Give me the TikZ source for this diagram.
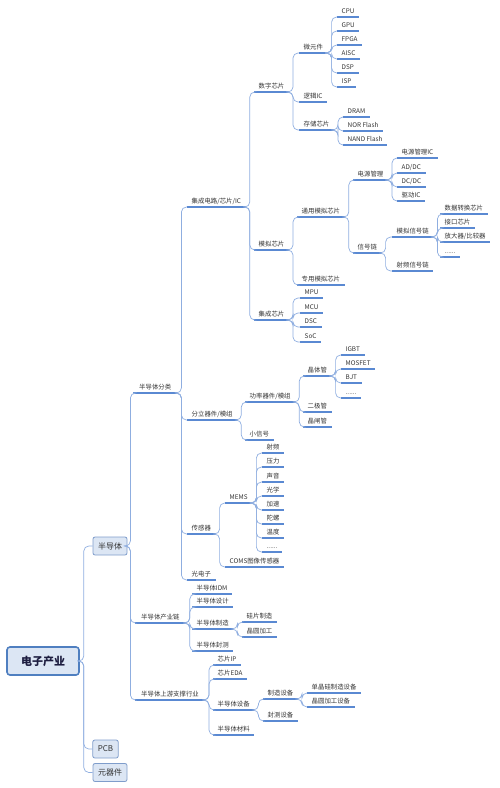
\documentclass[tikz,border=0pt]{standalone}
\usepackage{fontspec}
\setmainfont{Noto Sans CJK SC}
\definecolor{ulcol}{HTML}{5A89D2}
\definecolor{cncol}{HTML}{8FAEE0}
\definecolor{txtcol}{HTML}{333333}
\definecolor{boxfill}{HTML}{DCE6F4}
\definecolor{boxdraw}{HTML}{7F9DCB}
\definecolor{rootdraw}{HTML}{4F7FC0}
\tikzset{
  ulstyle/.style={draw=ulcol, line width=1.1pt},
  leaf/.style={anchor=south west, inner xsep=4.5pt, inner ysep=1.9pt,
    font=\fontsize{6.4}{7}\selectfont, text=txtcol, text height=5pt, text depth=1pt,
    append after command={(\tikzlastnode.south west) edge[ulstyle] (\tikzlastnode.south east)}},
  conn/.style={draw=cncol, line width=0.7pt, rounded corners=5pt},
  lonebox/.style={draw=boxdraw, fill=boxfill, line width=0.8pt, rounded corners=2pt,
    font=\fontsize{8}{9}\selectfont, text=txtcol, minimum height=18pt, inner xsep=5pt},
  rootbox/.style={draw=rootdraw, fill=boxfill, line width=1.6pt, rounded corners=3pt,
    font=\fontsize{11}{12}\selectfont\bfseries, text=txtcol!80!blue!70!black,
    minimum width=72pt, minimum height=28pt}
}
\begin{document}
\begin{tikzpicture}[x=1pt, y=-1pt]
\useasboundingbox (0,0) rectangle (500,788);
% root and level 1
\node[rootbox] (root) at (43,661) {电子产业};
\node[lonebox] (ban) at (110,546) {半导体};
\node[lonebox] (pcb) at (105.5,749) {PCB};
\node[lonebox] (yqj) at (110,772.5) {元器件};
\foreach \c in {ban,pcb,yqj}
  \draw[conn] (root.east) -- ++(4,0) |- (\c.west);
% level 2
\node[leaf, inner xsep=6pt] (fenlei) at (133,393) {半导体分类};
\node[leaf, inner xsep=6pt] (chanye) at (135,623) {半导体产业链};
\node[leaf, inner xsep=6pt] (shangyou) at (135,700) {半导体上游支撑行业};
\foreach \c in {fenlei,chanye,shangyou}
  \draw[conn] (ban.east) -- ++(3,0) |- (\c.south west);
% level 3 under fenlei
\node[leaf] (ic) at (187,207) {集成电路/芯片/IC};
\node[leaf] (fenli) at (187,420) {分立器件/模组};
\node[leaf] (cgq) at (187,534) {传感器};
\node[leaf] (gdz) at (187,580) {光电子};
\foreach \c in {ic,fenli,cgq,gdz}
  \draw[conn] (fenlei.south east) -- ++(4,0) |- (\c.south west);
% under ic
\node[leaf] (shuzi) at (254,92) {数字芯片};
\node[leaf] (moni) at (254,250) {模拟芯片};
\node[leaf] (jicheng) at (254,320) {集成芯片};
\foreach \c in {shuzi,moni,jicheng}
  \draw[conn] (ic.south east) -- ++(4,0) |- (\c.south west);
% under shuzi
\node[leaf] (wei) at (299,53) {微元件};
\node[leaf] (luoji) at (299,102) {逻辑IC};
\node[leaf] (cunchu) at (299,130) {存储芯片};
\foreach \c in {wei,luoji,cunchu}
  \draw[conn] (shuzi.south east) -- ++(4,0) |- (\c.south west);
% under wei
\node[leaf] (cpu) at (337,17) {CPU};
\node[leaf] (gpu) at (337,31) {GPU};
\node[leaf] (fpga) at (337,45) {FPGA};
\node[leaf] (aisc) at (337,59) {AISC};
\node[leaf] (dsp) at (337,73) {DSP};
\node[leaf] (isp) at (337,87) {ISP};
\foreach \c in {cpu,gpu,fpga,aisc,dsp,isp}
  \draw[conn] (wei.south east) -- ++(4,0) |- (\c.south west);
% under cunchu
\node[leaf] (dram) at (343,117) {DRAM};
\node[leaf] (nor) at (343,131) {NOR Flash};
\node[leaf] (nand) at (343,145) {NAND Flash};
\foreach \c in {dram,nor,nand}
  \draw[conn] (cunchu.south east) -- ++(4,0) |- (\c.south west);
% under moni
\node[leaf] (tongyong) at (297,217) {通用模拟芯片};
\node[leaf] (zhuanyong) at (297,285) {专用模拟芯片};
\foreach \c in {tongyong,zhuanyong}
  \draw[conn] (moni.south east) -- ++(4,0) |- (\c.south west);
% under tongyong
\node[leaf] (dianyuan) at (353,180) {电源管理};
\node[leaf] (xinhao) at (353,253) {信号链};
\foreach \c in {dianyuan,xinhao}
  \draw[conn] (tongyong.south east) -- ++(4,0) |- (\c.south west);
% under dianyuan
\node[leaf] (dyic) at (397,158) {电源管理IC};
\node[leaf] (addc) at (397,173) {AD/DC};
\node[leaf] (dcdc) at (397,187) {DC/DC};
\node[leaf] (qdic) at (397,201) {驱动IC};
\foreach \c in {dyic,addc,dcdc,qdic}
  \draw[conn] (dianyuan.south east) -- ++(4,0) |- (\c.south west);
% under xinhao
\node[leaf] (mnxh) at (392,237) {模拟信号链};
\node[leaf] (spxh) at (392,271) {射频信号链};
\foreach \c in {mnxh,spxh}
  \draw[conn] (xinhao.south east) -- ++(4,0) |- (\c.south west);
% under mnxh
\node[leaf] (sjzh) at (440,214) {数据转换芯片};
\node[leaf] (jkxp) at (440,228) {接口芯片};
\node[leaf] (fdq) at (440,242) {放大器/比较器};
\node[leaf] (mndots) at (440,257) {......};
\foreach \c in {sjzh,jkxp,fdq,mndots}
  \draw[conn] (mnxh.south east) -- ++(4,0) |- (\c.south west);
% under jicheng
\node[leaf] (mpu) at (300,298) {MPU};
\node[leaf] (mcu) at (300,313) {MCU};
\node[leaf] (dsc) at (300,327) {DSC};
\node[leaf] (soc) at (300,342) {SoC};
\foreach \c in {mpu,mcu,dsc,soc}
  \draw[conn] (jicheng.south east) -- ++(4,0) |- (\c.south west);
% under fenli
\node[leaf] (gonglv) at (245,402) {功率器件/模组};
\node[leaf] (xiaoxh) at (245,440) {小信号};
\foreach \c in {gonglv,xiaoxh}
  \draw[conn] (fenli.south east) -- ++(4,0) |- (\c.south west);
% under gonglv
\node[leaf] (jtg) at (303,376) {晶体管};
\node[leaf] (ejg) at (303,412) {二极管};
\node[leaf] (jzg) at (303,427) {晶闸管};
\foreach \c in {jtg,ejg,jzg}
  \draw[conn] (gonglv.south east) -- ++(4,0) |- (\c.south west);
% under jtg
\node[leaf] (igbt) at (341,355) {IGBT};
\node[leaf] (mosfet) at (341,369) {MOSFET};
\node[leaf] (bjt) at (341,383) {BJT};
\node[leaf] (jtdots) at (341,398) {......};
\foreach \c in {igbt,mosfet,bjt,jtdots}
  \draw[conn] (jtg.south east) -- ++(4,0) |- (\c.south west);
% under cgq
\node[leaf] (mems) at (225,503) {MEMS};
\node[leaf] (coms) at (225,567) {COMS图像传感器};
\foreach \c in {mems,coms}
  \draw[conn] (cgq.south east) -- ++(4,0) |- (\c.south west);
% under mems
\node[leaf] (sp) at (262,453) {射频};
\node[leaf] (yl) at (262,467) {压力};
\node[leaf] (sy) at (262,482) {声音};
\node[leaf] (gx) at (262,496) {光学};
\node[leaf] (js) at (262,510) {加速};
\node[leaf] (tl) at (262,524) {陀螺};
\node[leaf] (wd) at (262,538) {温度};
\node[leaf] (msdots) at (262,552) {......};
\foreach \c in {sp,yl,sy,gx,js,tl,wd,msdots}
  \draw[conn] (mems.south east) -- ++(4,0) |- (\c.south west);
% under chanye
\node[leaf] (idm) at (192,594) {半导体IDM};
\node[leaf] (sheji) at (192,607) {半导体设计};
\node[leaf] (zhizao) at (192,629) {半导体制造};
\node[leaf] (fengce) at (192,651) {半导体封测};
\foreach \c in {idm,sheji,zhizao,fengce}
  \draw[conn] (chanye.south east) -- ++(4,0) |- (\c.south west);
% under zhizao
\node[leaf] (gpzz) at (242,622) {硅片制造};
\node[leaf] (jyjg) at (242,637) {晶圆加工};
\foreach \c in {gpzz,jyjg}
  \draw[conn] (zhizao.south east) -- ++(4,0) |- (\c.south west);
% under shangyou
\node[leaf] (xpip) at (213,665) {芯片IP};
\node[leaf] (xpeda) at (213,679) {芯片EDA};
\node[leaf] (shebei) at (213,710) {半导体设备};
\node[leaf] (cailiao) at (213,735) {半导体材料};
\foreach \c in {xpip,xpeda,shebei,cailiao}
  \draw[conn] (shangyou.south east) -- ++(4,0) |- (\c.south west);
% under shebei
\node[leaf] (zzsb) at (263,699) {制造设备};
\node[leaf] (fcsb) at (263,721) {封测设备};
\foreach \c in {zzsb,fcsb}
  \draw[conn] (shebei.south east) -- ++(4,0) |- (\c.south west);
% under zzsb
\node[leaf] (djg) at (307,693) {单晶硅制造设备};
\node[leaf] (jyjgsb) at (307,707) {晶圆加工设备};
\foreach \c in {djg,jyjgsb}
  \draw[conn] (zzsb.south east) -- ++(4,0) |- (\c.south west);
\end{tikzpicture}
\end{document}
